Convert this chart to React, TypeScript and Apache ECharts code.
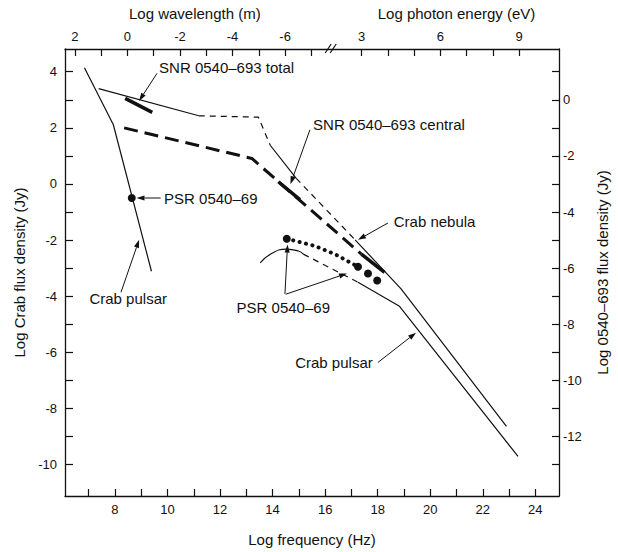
import React, { useEffect, useRef } from 'react';
import * as echarts from 'echarts';

// conversions for the top axis
const LOG_C = Math.log10(2.998e8); // log frequency of 1 m wavelength
const LOG_EV_HZ = Math.log10(2.418e14); // log frequency of 1 eV photon

// axis ticks and labels
const freqTicks = [7, 8, 9, 10, 11, 12, 13, 14, 15, 16, 17, 18, 19, 20, 21, 22, 23, 24];
const freqLabels = [8, 10, 12, 14, 16, 18, 20, 22, 24];
const crabTicks = [-10, -9, -8, -7, -6, -5, -4, -3, -2, -1, 0, 1, 2, 3, 4];
const crabLabels = [-10, -8, -6, -4, -2, 0, 2, 4];
const snrTicks = [-13, -12, -11, -10, -9, -8, -7, -6, -5, -4, -3, -2, -1, 0, 1];
const snrLabels = [-12, -10, -8, -6, -4, -2, 0];
const wavelengthTicks = [2, 1, 0, -1, -2, -3, -4, -5, -6, -7];
const wavelengthLabels = [2, 0, -2, -4, -6];
const energyTicks = [3, 4, 5, 6, 7, 8, 9];
const energyLabels = [3, 6, 9];

// Crab nebula (left axis: log Crab flux density)
const crabNebulaRadio = [[7.38, 3.4], [11.19, 2.43]];
const crabNebulaGap1 = [[11.19, 2.43], [13.46, 2.38], [13.91, 1.38]];
const crabNebulaOptical = [[13.91, 1.38], [14.9, 0.2]];
const crabNebulaGap2 = [[14.9, 0.2], [17.14, -1.99]];
const crabNebulaHigh = [[17.14, -1.99], [18.89, -3.74], [22.9, -8.64]];

// Crab pulsar (left axis)
const crabPulsarRadio = [[6.84, 4.14], [7.94, 2.11], [9.39, -3.11]];
const crabPulsarOptical = [[13.53, -2.81], [13.96, -2.48], [14.52, -2.32], [14.98, -2.39], [15.17, -2.5]];
const crabPulsarGap = [[15.17, -2.5], [17.25, -3.5]];
const crabPulsarHigh = [[17.25, -3.5], [18.83, -4.36], [23.34, -9.71]];

// SNR 0540-693 (right axis: log 0540-693 flux density)
const snrTotalRadio = [[8.39, 0.05], [9.42, -0.45]];
const snrCentralModel = [[8.35, -1.0], [13.21, -2.09], [17.38, -5.5]];
const snrCentralOptical = [[14.22, -2.92], [15.04, -3.56]];
const snrCentralXray = [[17.38, -5.5], [18.26, -6.15]];

// PSR 0540-69 (right axis)
const psrRadio = [[8.64, -3.5]];
const psrOptical = [[14.54, -4.95]];
const psrOpticalTrend = [[14.54, -4.95], [15.61, -5.21], [16.37, -5.5], [17.25, -5.95]];
const psrXray = [[17.25, -5.95], [17.63, -6.19], [17.98, -6.44]];

// annotations, in (log frequency, log Crab flux) coordinates
const annotations = [
  { text: 'SNR 0540–693 total', at: [9.68, 4.14], arrows: [[[9.6, 3.94], [8.92, 2.96]]] },
  { text: 'PSR 0540–69', at: [9.87, -0.5], arrows: [[[9.74, -0.5], [8.82, -0.5]]] },
  { text: 'SNR 0540–693 central', at: [15.54, 2.11], arrows: [[[15.42, 1.93], [14.68, -0.01]]] },
  { text: 'Crab nebula', at: [18.61, -1.35], arrows: [[[18.39, -1.39], [17.25, -1.99]]] },
  {
    text: 'PSR 0540–69',
    at: [12.63, -4.42],
    arrows: [
      [[14.47, -3.92], [14.57, -2.16]],
      [[14.5, -3.93], [16.83, -3.19]],
    ],
  },
  { text: 'Crab pulsar', at: [7.03, -4.07], arrows: [[[8.23, -3.86], [8.92, -1.99]]] },
  { text: 'Crab pulsar', at: [14.86, -6.36], arrows: [[[18.01, -6.36], [19.46, -5.3]]] },
];

const topTitles = [
  { text: 'Log wavelength (m)', at: 11.04 },
  { text: 'Log photon energy (eV)', at: 21.0 },
];
const axisBreakAt = 16.23;

const X_MIN = 6.1;
const X_MAX = 24.9;
const Y_MIN = -11.12;
const Y_MAX = 4.81;
const SNR_OFFSET = 3;

export default function App() {
  const ref = useRef<HTMLDivElement>(null);

  useEffect(() => {
    const chart = echarts.init(ref.current!, null, { renderer: 'svg' });
    const font = "'Liberation Sans', Arial, sans-serif";
    const ink = '#111';

    const axisLine = { show: true, onZero: false, lineStyle: { color: ink, width: 1.3 } };
    const labelStyle = { color: ink, fontSize: 13, fontFamily: font };
    const titleStyle = { color: ink, fontSize: 15, fontFamily: font };

    const line = (name: string, data: number[][], yAxisIndex: number, width: number, type: any, extra: any = {}) => ({
      type: 'line',
      name,
      data,
      xAxisIndex: 0,
      yAxisIndex,
      symbol: 'none',
      showSymbol: false,
      silent: true,
      lineStyle: { color: ink, width, type },
      z: 3,
      ...extra,
    });

    const thinDash = [6, 5];

    const option: any = {
      animation: false,
      backgroundColor: '#fff',
      textStyle: { fontFamily: font },
      grid: { left: 65, right: 56, top: 49, bottom: 51, containLabel: false },
      xAxis: [
        {
          type: 'value',
          position: 'bottom',
          min: X_MIN,
          max: X_MAX,
          axisLine,
          splitLine: { show: false },
          axisTick: { inside: true, length: 7, customValues: freqTicks, lineStyle: { color: ink, width: 1.2 } },
          axisLabel: { ...labelStyle, margin: 7, customValues: freqLabels },
          name: 'Log frequency (Hz)',
          nameLocation: 'middle',
          nameGap: 36,
          nameTextStyle: titleStyle,
        },
        {
          type: 'value',
          position: 'top',
          min: X_MIN,
          max: X_MAX,
          axisLine,
          splitLine: { show: false },
          axisTick: {
            inside: true,
            length: 7,
            customValues: [
              ...wavelengthTicks.map((l) => LOG_C - l),
              ...energyTicks.map((e) => e + LOG_EV_HZ),
            ],
            lineStyle: { color: ink, width: 1.2 },
          },
          axisLabel: {
            ...labelStyle,
            margin: 6,
            customValues: [
              ...wavelengthLabels.map((l) => LOG_C - l),
              ...energyLabels.map((e) => e + LOG_EV_HZ),
            ],
            formatter: (v: number) => {
              if (v < axisBreakAt) return String(Math.round(LOG_C - v));
              return String(Math.round(v - LOG_EV_HZ));
            },
          },
        },
      ],
      yAxis: [
        {
          type: 'value',
          position: 'left',
          min: Y_MIN,
          max: Y_MAX,
          axisLine,
          splitLine: { show: false },
          axisTick: { inside: true, length: 8, customValues: crabTicks, lineStyle: { color: ink, width: 1.2 } },
          axisLabel: { ...labelStyle, margin: 8, customValues: crabLabels },
          name: 'Log Crab flux density (Jy)',
          nameLocation: 'middle',
          nameGap: 29,
          nameRotate: 90,
          nameTextStyle: titleStyle,
        },
        {
          type: 'value',
          position: 'right',
          min: Y_MIN - SNR_OFFSET,
          max: Y_MAX - SNR_OFFSET,
          axisLine,
          splitLine: { show: false },
          axisTick: { inside: true, length: 7, customValues: snrTicks, lineStyle: { color: ink, width: 1.2 } },
          axisLabel: { ...labelStyle, margin: 4, customValues: snrLabels },
          name: 'Log 0540–693 flux density (Jy)',
          nameLocation: 'middle',
          nameGap: 36,
          nameRotate: 90,
          nameTextStyle: titleStyle,
        },
      ],
      series: [
        line('Crab nebula', crabNebulaRadio, 0, 1.2, 'solid'),
        line('Crab nebula', crabNebulaGap1, 0, 1.2, thinDash),
        line('Crab nebula', crabNebulaOptical, 0, 1.2, 'solid'),
        line('Crab nebula', crabNebulaGap2, 0, 1.2, thinDash),
        line('Crab nebula', crabNebulaHigh, 0, 1.2, 'solid'),
        line('Crab pulsar', crabPulsarRadio, 0, 1.2, 'solid'),
        line('Crab pulsar', crabPulsarOptical, 0, 1.2, 'solid', { smooth: 0.5 }),
        line('Crab pulsar', crabPulsarGap, 0, 1.2, thinDash),
        line('Crab pulsar', crabPulsarHigh, 0, 1.2, 'solid'),
        line('SNR 0540–693 total', snrTotalRadio, 1, 3.5, 'solid'),
        line('SNR 0540–693 central', snrCentralModel, 1, 3, [14, 7]),
        line('SNR 0540–693 central', snrCentralOptical, 1, 3.5, 'solid'),
        line('SNR 0540–693 central', snrCentralXray, 1, 3.5, 'solid'),
        line('PSR 0540–69', psrOpticalTrend, 1, 4, [0.1, 6.5], { lineStyle: { color: ink, width: 4, type: [0.1, 6.5], cap: 'round' } }),
        {
          type: 'scatter',
          name: 'PSR 0540–69',
          xAxisIndex: 0,
          yAxisIndex: 1,
          data: [...psrRadio, ...psrOptical, ...psrXray],
          symbol: 'circle',
          symbolSize: 8,
          itemStyle: { color: ink, opacity: 1 },
          silent: true,
          z: 4,
        },
      ],
    };

    chart.setOption(option);

    const px = (p: number[]) => [
      chart.convertToPixel({ xAxisIndex: 0 }, p[0]) as number,
      chart.convertToPixel({ yAxisIndex: 0 }, p[1]) as number,
    ];

    const elements: any[] = [];
    const arrow = (from: number[], to: number[]) => {
      const a = px(from);
      const b = px(to);
      const dx = b[0] - a[0];
      const dy = b[1] - a[1];
      const len = Math.hypot(dx, dy) || 1;
      const ux = dx / len;
      const uy = dy / len;
      const headL = 8;
      const headW = 2.6;
      const bx = b[0] - ux * headL;
      const by = b[1] - uy * headL;
      elements.push({
        type: 'line',
        shape: { x1: a[0], y1: a[1], x2: bx, y2: by },
        style: { stroke: ink, lineWidth: 1 },
        silent: true,
        z: 10,
      });
      elements.push({
        type: 'polygon',
        shape: {
          points: [
            [b[0], b[1]],
            [bx - uy * headW, by + ux * headW],
            [bx + uy * headW, by - ux * headW],
          ],
        },
        style: { fill: ink },
        silent: true,
        z: 10,
      });
    };

    annotations.forEach((a) => {
      const p = px(a.at);
      elements.push({
        type: 'text',
        x: p[0],
        y: p[1],
        style: {
          text: a.text,
          fill: ink,
          font: `15px ${font}`,
          align: 'left',
          verticalAlign: 'middle',
        },
        silent: true,
        z: 10,
      });
      a.arrows.forEach((ar) => arrow(ar[0], ar[1]));
    });

    const gridTop = chart.convertToPixel({ yAxisIndex: 0 }, Y_MAX) as number;
    topTitles.forEach((t) => {
      const x = chart.convertToPixel({ xAxisIndex: 0 }, t.at) as number;
      elements.push({
        type: 'text',
        x,
        y: gridTop - 36,
        style: { text: t.text, fill: ink, font: `15px ${font}`, align: 'center', verticalAlign: 'middle' },
        silent: true,
      });
    });

    const bx = chart.convertToPixel({ xAxisIndex: 0 }, axisBreakAt) as number;
    [-3, 2].forEach((off) => {
      elements.push({
        type: 'line',
        shape: { x1: bx + off - 3, y1: gridTop + 4, x2: bx + off + 3, y2: gridTop - 5 },
        style: { stroke: ink, lineWidth: 1.2 },
        silent: true,
        z: 10,
      });
    });

    chart.setOption({ graphic: { elements } });

    return () => chart.dispose();
  }, []);

  return (
    <div
      ref={ref}
      style={{ position: 'fixed', left: 0, top: 0, width: 618, height: 552, background: '#fff' }}
    />
  );
}
